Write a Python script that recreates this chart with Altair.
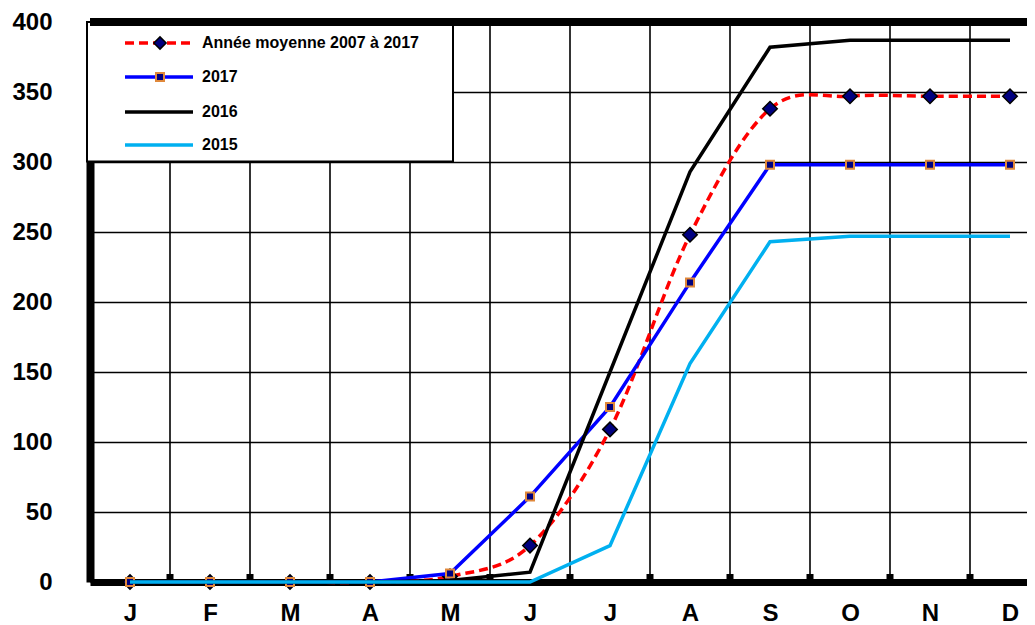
import altair as alt
import pandas as pd

months = ["J", "F", "M", "A", "M", "J", "J", "A", "S", "O", "N", "D"]
avg_vals = [0, 0, 0, 0, 4, 26, 109, 248, 338, 347, 347, 347]
vals_2017 = [0, 0, 0, 0, 6, 61, 125, 214, 298, 298, 298, 298]
vals_2016 = [0, 0, 0, 0, 1, 7, 150, 293, 382, 387, 387, 387]
vals_2015 = [0, 0, 0, 0, 0, 0, 26, 156, 243, 247, 247, 247]
series_names = ["Année moyenne 2007 à 2017", "2017", "2016", "2015"]
y_ticks = [0, 50, 100, 150, 200, 250, 300, 350, 400]
boundaries = [0.5, 1.5, 2.5, 3.5, 4.5, 5.5, 6.5, 7.5, 8.5, 9.5, 10.5]

W, H = 937, 560
FONT = "Liberation Sans, Arial, sans-serif"
idx = list(range(len(months)))


def frame(vals):
    return pd.DataFrame({"m": idx, "v": vals, "month": months})


xs = alt.Scale(domain=[-0.5, -0.5 + W / 80.0], nice=False, zero=False)
ys = alt.Scale(domain=[0, 400], nice=False, zero=True)

label_expr = "[" + ",".join("'%s'" % m for m in months) + "][datum.value]"
x_axis = alt.Axis(values=idx, labelExpr=label_expr, grid=False, ticks=False, tickSize=0,
                  labelPadding=19, domainWidth=7, domainColor="black", title=None,
                  labelFont=FONT, labelFontSize=24, labelFontWeight="bold", labelColor="black",
                  labelAngle=0)
y_axis = alt.Axis(values=y_ticks, grid=True, gridColor="black", gridWidth=1.6, gridOpacity=1,
                  ticks=False, tickSize=0, labelPadding=38, domainWidth=8, domainColor="black",
                  title=None, labelFont=FONT, labelFontSize=24, labelFontWeight="bold",
                  labelColor="black", labelBaseline="middle")

bdf = pd.DataFrame({"b": boundaries})

vgrid = alt.Chart(bdf).mark_rule(color="black", strokeWidth=1.6).encode(
    x=alt.X("b:Q", scale=xs, axis=x_axis)
)
bsq = alt.Chart(bdf).mark_rule(color="black", strokeWidth=7).encode(
    x=alt.X("b:Q", scale=xs, axis=x_axis), y=alt.value(552), y2=alt.value(H)
)


def line(vals, color, dash=None, interp="linear"):
    kw = dict(color=color, strokeWidth=3.5, interpolate=interp)
    if dash:
        kw["strokeDash"] = dash
    return alt.Chart(frame(vals)).mark_line(**kw).encode(
        x=alt.X("m:Q", scale=xs, axis=x_axis),
        y=alt.Y("v:Q", scale=ys, axis=y_axis),
    )


def points(vals, shape, size, fill, stroke, sw):
    return alt.Chart(frame(vals)).mark_point(
        shape=shape, size=size, filled=True, fill=fill, stroke=stroke, strokeWidth=sw, opacity=1
    ).encode(
        x=alt.X("m:Q", scale=xs, axis=x_axis),
        y=alt.Y("v:Q", scale=ys, axis=y_axis),
    )


avg_line = line(avg_vals, "#FF0000", dash=[9, 5], interp="cardinal")
avg_pts = points(avg_vals, "diamond", 210, "#000080", "black", 1.5)
l17 = line(vals_2017, "#0000FF")
p17 = points(vals_2017, "square", 64, "#000080", "#E0883A", 2)
l16 = line(vals_2016, "black")
l15 = line(vals_2015, "#00B0F0")

one = pd.DataFrame({"k": [0]})
leg_box = alt.Chart(one).mark_rect(fill="white", stroke="black", strokeWidth=2).encode(
    x=alt.value(-3), x2=alt.value(363), y=alt.value(0), y2=alt.value(139.5)
)

leg_rows = [21, 55, 90, 123]
leg_styles = [
    dict(color="#FF0000", strokeDash=[9, 5]),
    dict(color="#0000FF"),
    dict(color="black"),
    dict(color="#00B0F0"),
]
leg_layers = []
for name, ry, st in zip(series_names, leg_rows, leg_styles):
    leg_layers.append(
        alt.Chart(one).mark_rule(strokeWidth=3.5, **st).encode(
            x=alt.value(35), x2=alt.value(103), y=alt.value(ry)
        )
    )
    leg_layers.append(
        alt.Chart(pd.DataFrame({"t": [name]})).mark_text(
            align="left", baseline="middle", font=FONT, fontSize=16, fontWeight="bold", color="black"
        ).encode(x=alt.value(112), y=alt.value(ry), text="t:N")
    )
leg_layers.append(
    alt.Chart(one).mark_point(shape="diamond", size=150, filled=True, fill="#000080",
                              stroke="black", strokeWidth=1.5, opacity=1).encode(
        x=alt.value(70), y=alt.value(leg_rows[0]))
)
leg_layers.append(
    alt.Chart(one).mark_point(shape="square", size=64, filled=True, fill="#000080",
                              stroke="#E0883A", strokeWidth=2, opacity=1).encode(
        x=alt.value(70), y=alt.value(leg_rows[1]))
)

top = alt.Chart(pd.DataFrame({"v": [400]})).mark_rule(color="black", strokeWidth=8).encode(
    y=alt.Y("v:Q", scale=ys, axis=y_axis)
)

chart = alt.layer(
    vgrid, bsq, avg_line, avg_pts, l17, p17, l16, l15, leg_box, *leg_layers, top
).properties(
    width=W, height=H,
    autosize=alt.AutoSizeParams(type="none"),
    padding={"left": 82, "top": 14, "right": 0, "bottom": 43},
).configure_view(stroke=None).configure(background="white")

chart.save("out.html", embed_options={"renderer": "svg", "actions": False})
